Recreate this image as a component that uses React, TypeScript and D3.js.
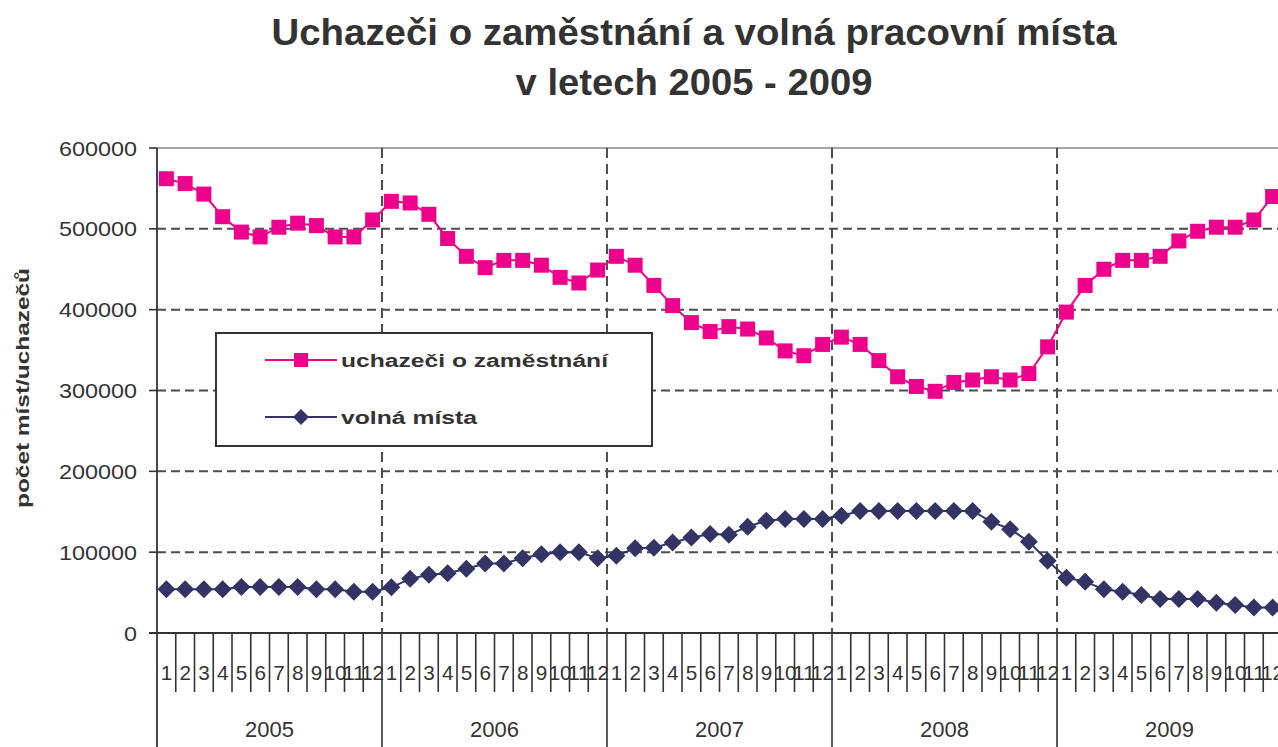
import React from "react";
import * as d3 from "d3";

const years = ["2005", "2006", "2007", "2008", "2009"];
const monthLabels = ["1", "2", "3", "4", "5", "6", "7", "8", "9", "10", "11", "12"];
const yTicks = [0, 100000, 200000, 300000, 400000, 500000, 600000];

const uchazeci = [
  562000, 556000, 543000, 515000, 496000, 490000, 502000, 507000, 504000, 490000, 490000, 511000,
  534000, 532000, 518000, 488000, 466000, 452000, 461000, 461000, 455000, 440000, 433000, 449000,
  466000, 455000, 430000, 405000, 384000, 373000, 379000, 376000, 365000, 349000, 343000, 357000,
  366000, 357000, 337000, 317000, 305000, 299000, 310000, 313000, 317000, 313000, 321000, 354000,
  397000, 430000, 450000, 461000, 461000, 466000, 485000, 497000, 502000, 502000, 511000, 540000,
];

const volnaMista = [
  54000, 54000, 54000, 54000, 57000, 57000, 57000, 57000, 54000, 54000, 51000, 51000,
  56500, 67000, 72000, 74000, 79500, 86000, 86000, 92500, 97500, 100000, 100000, 92500,
  95500, 105000, 105500, 112000, 118000, 122500, 121500, 131500, 139000, 141000, 141000, 141000,
  145000, 151000, 151000, 151000, 151000, 151000, 151000, 151000, 137500, 128500, 113000, 89500,
  68500, 63500, 54000, 51000, 47000, 42000, 42000, 42000, 37500, 34500, 31500, 31500,
];

const seriesNames = ["uchazeči o zaměstnání", "volná místa"];
const titleLines = ["Uchazeči o zaměstnání a volná pracovní místa", "v letech 2005 - 2009"];
const yAxisTitle = "počet míst/uchazečů";

const W = 1278;
const H = 747;
const left = 157;
const right = 1282;
const top = 148;
const bottom = 633;
const PINK = "#EC008C";
const NAVY = "#333366";
const GRID = "#4d4d4d";
const FONT = "'Liberation Sans', Arial, Helvetica, sans-serif";

export default function App() {
  const nMonths = years.length * 12;
  const x = d3.scaleLinear().domain([0, nMonths]).range([left, right]);
  const y = d3.scaleLinear().domain([0, 600000]).range([bottom, top]);
  const cx = (i: number) => x(i + 0.5);

  const line = d3
    .line<number>()
    .x((_, i) => cx(i))
    .y((d) => y(d));

  const months = d3.range(nMonths);
  const yearBounds = d3.range(1, years.length + 1).map((k) => k * 12);
  const monthBounds = months.slice(1).filter((m) => m % 12 !== 0);

  const diamond = (px: number, py: number, r: number) =>
    `M${px},${py - r}L${px + r},${py}L${px},${py + r}L${px - r},${py}Z`;

  return (
    <svg
      width={W}
      height={H}
      style={{ position: "absolute", left: 0, top: 0, background: "#fff" }}
      fontFamily={FONT}
    >
      <rect x={0} y={0} width={W} height={H} fill="#fff" />
      {/* Title */}
      <text x={694} y={45} textAnchor="middle" fontSize={36} fontWeight="bold" fill="#333"
        textLength={845} lengthAdjust="spacingAndGlyphs">{titleLines[0]}</text>
      <text x={694} y={95} textAnchor="middle" fontSize={36} fontWeight="bold" fill="#333"
        textLength={357} lengthAdjust="spacingAndGlyphs">{titleLines[1]}</text>

      {/* Horizontal gridlines */}
      {yTicks.filter((t) => t > 0 && t < 600000).map((t) => (
        <line key={"hg" + t} x1={left} x2={W} y1={y(t)} y2={y(t)} stroke={GRID}
          strokeWidth={2} strokeDasharray="9,5" />
      ))}
      {/* Top border */}
      <line x1={left} x2={W} y1={y(600000)} y2={y(600000)} stroke="#a9a2a2" strokeWidth={2} />

      {/* Vertical gridlines at year boundaries */}
      {yearBounds.map((b) => (
        <g key={"vg" + b}>
          <line x1={x(b)} x2={x(b)} y1={top} y2={bottom} stroke={GRID} strokeWidth={2}
            strokeDasharray="10,6" />
          <line x1={x(b)} x2={x(b)} y1={bottom} y2={H} stroke="#333" strokeWidth={1.6} />
        </g>
      ))}

      {/* Month labels */}
      {months.map((m) => (
        <text key={"ml" + m} x={cx(m)} y={680} textAnchor="middle" fontSize={21} fill="#333"
          textLength={monthLabels[m % 12].length * 11.5} lengthAdjust="spacingAndGlyphs">
          {monthLabels[m % 12]}
        </text>
      ))}

      {/* Month ticks */}
      {monthBounds.map((b) => (
        <line key={"mt" + b} x1={x(b)} x2={x(b)} y1={bottom} y2={692} stroke="#333" strokeWidth={1.6} />
      ))}

      {/* Year labels */}
      {years.map((yr, k) => (
        <text key={"yl" + yr} x={x(k * 12 + 6)} y={737} textAnchor="middle" fontSize={22} fill="#333">
          {yr}
        </text>
      ))}

      {/* Axes */}
      <line x1={left} x2={left} y1={top} y2={H} stroke="#333" strokeWidth={1.8} />
      <line x1={149} x2={W} y1={bottom} y2={bottom} stroke="#333" strokeWidth={1.8} />
      {yTicks.map((t) => (
        <g key={"yt" + t}>
          <line x1={149} x2={left} y1={y(t)} y2={y(t)} stroke="#333" strokeWidth={1.6} />
          <text x={137} y={y(t) + 7.5} textAnchor="end" fontSize={21} fill="#333"
            textLength={String(t).length * 13} lengthAdjust="spacingAndGlyphs">
            {t}
          </text>
        </g>
      ))}

      {/* Y axis title */}
      <text transform={`translate(29,${388}) rotate(-90)`} textAnchor="middle" fontSize={19}
        fontWeight="bold" fill="#333" textLength={240} lengthAdjust="spacingAndGlyphs">
        {yAxisTitle}
      </text>

      {/* Series: uchazeči */}
      <path d={line(uchazeci) || ""} fill="none" stroke={PINK} strokeWidth={2} />
      {uchazeci.map((v, i) => (
        <rect key={"u" + i} x={cx(i) - 7.5} y={y(v) - 7.5} width={15} height={15} fill={PINK} />
      ))}

      {/* Series: volná místa */}
      <path d={line(volnaMista) || ""} fill="none" stroke={NAVY} strokeWidth={2} />
      {volnaMista.map((v, i) => (
        <path key={"v" + i} d={diamond(cx(i), y(v), 9)} fill={NAVY} />
      ))}

      {/* Legend */}
      <rect x={216} y={333} width={436} height={113} fill="#fff" stroke="#333" strokeWidth={2} />
      <line x1={265} x2={337} y1={360} y2={360} stroke={PINK} strokeWidth={2} />
      <rect x={301 - 7} y={360 - 7} width={14} height={14} fill={PINK} />
      <text x={341} y={367} fontSize={18} fontWeight="bold" fill="#333" textLength={267}
        lengthAdjust="spacingAndGlyphs">{seriesNames[0]}</text>
      <line x1={265} x2={337} y1={417} y2={417} stroke={NAVY} strokeWidth={2} />
      <path d={diamond(301, 417, 8)} fill={NAVY} />
      <text x={341} y={424} fontSize={18} fontWeight="bold" fill="#333" textLength={136}
        lengthAdjust="spacingAndGlyphs">{seriesNames[1]}</text>
    </svg>
  );
}
